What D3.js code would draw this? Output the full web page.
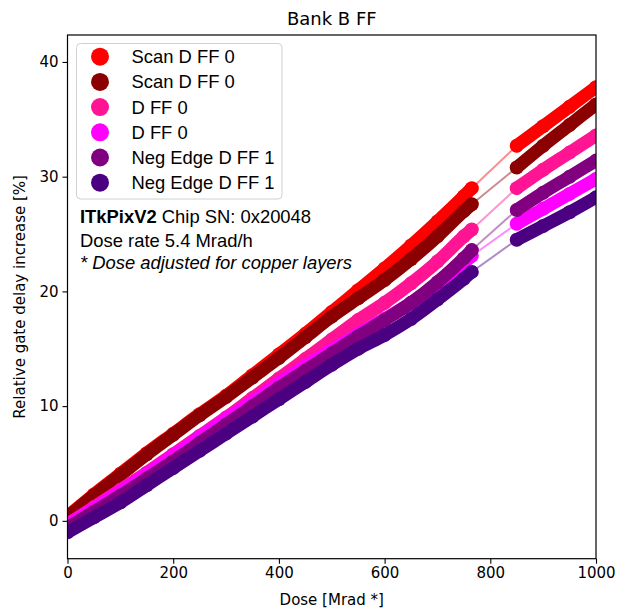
<!DOCTYPE html>
<html>
<head>
<meta charset="utf-8">
<script src="https://cdn.jsdelivr.net/npm/d3@7"></script>
<style>
  body { margin: 0; background: #fff; }
  text { font-family: "DejaVu Sans", sans-serif; fill: #000; }
  .note, .leg { font-family: "Liberation Sans", Arial, sans-serif; }
</style>
</head>
<body>
<div id="container-chart"></div>
<script>
// dose points [Mrad *], before and after the irradiation gap
var doseA = [0, 50, 100, 150, 200, 250, 300, 350, 400, 450, 500, 550, 600, 650, 700, 750, 765];
var doseB = [850, 900, 950, 1000];

var seriesNames = ["Scan D FF 0", "Scan D FF 0", "D FF 0", "D FF 0", "Neg Edge D FF 1", "Neg Edge D FF 1"];
var seriesColors = ["#ff0000", "#8b0000", "#ff1493", "#ff00ff", "#800080", "#4b0082"];

// relative gate delay increase [%]
var scanRedA = [0.4, 2.3, 4.1, 5.9, 7.6, 9.3, 10.9, 12.7, 14.5, 16.3, 18.2, 20.1, 22.0, 24.0, 26.1, 28.3, 29.0];
var scanRedB = [32.7, 34.4, 36.1, 37.8];
var scanDarkA = [0.3, 2.2, 4.0, 5.8, 7.5, 9.2, 10.8, 12.5, 14.2, 16.0, 17.8, 19.4, 21.0, 22.8, 24.8, 27.0, 27.6];
var scanDarkB = [30.8, 32.7, 34.5, 36.3];
var dffPinkA = [-0.3, 1.2, 2.7, 4.2, 5.8, 7.4, 9.0, 10.7, 12.4, 14.1, 15.8, 17.5, 19.0, 20.7, 22.6, 24.8, 25.4];
var dffPinkB = [29.0, 30.6, 32.1, 33.6];
var dffMagA = [-0.3, 1.1, 2.6, 4.1, 5.7, 7.3, 8.9, 10.4, 12.0, 13.5, 14.9, 16.3, 17.6, 19.0, 20.6, 22.5, 23.1];
var dffMagB = [25.9, 27.2, 28.5, 29.8];
var negPurpleA = [-0.6, 0.8, 2.2, 3.7, 5.2, 6.8, 8.4, 10.0, 11.6, 13.1, 14.6, 16.1, 17.5, 19.0, 20.8, 22.9, 23.6];
var negPurpleB = [27.1, 28.6, 30.0, 31.4];
var negIndigoA = [-1.0, 0.3, 1.6, 3.1, 4.6, 6.1, 7.6, 9.1, 10.6, 12.1, 13.6, 15.0, 16.2, 17.6, 19.3, 21.1, 21.7];
var negIndigoB = [24.5, 25.7, 26.9, 28.2];

var valuesA = [scanRedA, scanDarkA, dffPinkA, dffMagA, negPurpleA, negIndigoA];
var valuesB = [scanRedB, scanDarkB, dffPinkB, dffMagB, negPurpleB, negIndigoB];

var xTicks = [0, 200, 400, 600, 800, 1000];
var yTicks = [0, 10, 20, 30, 40];

function chartBank(width, height) {
  var svg = d3.select("#container-chart")
    .append("svg")
      .attr("width", width)
      .attr("height", height);

  var left = 67.5, right = 596, top = 35, bottom = 558.7;

  var x = d3.scaleLinear()
    .domain([0, 1000])
    .range([left, right]);
  var y = d3.scaleLinear()
    .domain([-3.3, 42.35])
    .range([bottom, top]);

  var plot = svg.append("g");
  plot.append("clipPath").attr("id", "clip")
    .append("rect")
      .attr("x", left).attr("y", top)
      .attr("width", right - left).attr("height", bottom - top);
  var marks = plot.append("g").attr("clip-path", "url(#clip)");

  var line = d3.line()
    .x(d => x(d[0]))
    .y(d => y(d[1]));
  var band = d3.line()
    .curve(d3.curveMonotoneX)
    .x(d => x(d[0]))
    .y(d => y(d[1]));

  seriesColors.forEach(function(c, i) {
    var a = doseA.map((d, j) => [d, valuesA[i][j]]);
    var b = doseB.map((d, j) => [d, valuesB[i][j]]);

    // thin connecting line across the gap
    marks.append("path")
      .datum([a[a.length - 1], b[0]])
      .attr("fill", "none")
      .attr("stroke", c)
      .attr("stroke-opacity", 0.45)
      .attr("stroke-width", 2)
      .attr("d", line);

    [a, b].forEach(function(seg) {
      marks.append("path")
        .datum(seg)
        .attr("fill", "none")
        .attr("stroke", c)
        .attr("stroke-width", 13)
        .attr("stroke-linecap", "round")
        .attr("stroke-linejoin", "round")
        .attr("d", band);
      marks.selectAll(null)
        .data(seg)
        .enter().append("circle")
          .attr("cx", d => x(d[0]))
          .attr("cy", d => y(d[1]))
          .attr("r", 7)
          .attr("fill", c);
    });
  });

  // axes
  var xAxis = svg.append("g")
    .attr("transform", "translate(0," + bottom + ")")
    .call(d3.axisBottom(x).tickValues(xTicks).tickFormat(d3.format("d")).tickSize(5).tickPadding(4));
  var yAxis = svg.append("g")
    .attr("transform", "translate(" + left + ",0)")
    .call(d3.axisLeft(y).tickValues(yTicks).tickFormat(d3.format("d")).tickSize(5).tickPadding(4));
  [xAxis, yAxis].forEach(function(g) {
    g.select(".domain").remove();
    g.selectAll("text").style("font-size", "15px").style("font-family", "DejaVu Sans");
    g.selectAll("line").attr("stroke", "#000").attr("stroke-width", 1.1);
  });

  svg.append("rect")
    .attr("x", left).attr("y", top)
    .attr("width", right - left).attr("height", bottom - top)
    .attr("fill", "none")
    .attr("stroke", "#000")
    .attr("stroke-width", 1.2);

  // title and labels
  svg.append("text")
    .attr("x", (left + right) / 2).attr("y", 25)
    .attr("text-anchor", "middle")
    .style("font-size", "18px")
    .text("Bank B FF");
  svg.append("text")
    .attr("x", (left + right) / 2).attr("y", 605)
    .attr("text-anchor", "middle")
    .style("font-size", "15px")
    .text("Dose [Mrad *]");
  svg.append("text")
    .attr("transform", "translate(25," + ((top + bottom) / 2) + ") rotate(-90)")
    .attr("text-anchor", "middle")
    .style("font-size", "15px")
    .text("Relative gate delay increase [%]");

  // legend
  var leg = svg.append("g");
  leg.append("rect")
    .attr("x", 76.5).attr("y", 43.5)
    .attr("width", 205.5).attr("height", 155.5)
    .attr("rx", 4)
    .attr("fill", "#fff")
    .attr("fill-opacity", 0.8)
    .attr("stroke", "#d0d0d0");
  seriesNames.forEach(function(n, i) {
    var cy = 56.7 + i * 25.2;
    leg.append("circle")
      .attr("cx", 100).attr("cy", cy).attr("r", 9)
      .attr("fill", seriesColors[i]);
    leg.append("text")
      .attr("class", "leg")
      .attr("x", 131.5).attr("y", cy + 6.5)
      .style("font-size", "18.4px")
      .text(n);
  });

  // annotation
  var t1 = svg.append("text").attr("class", "note")
    .attr("x", 80).attr("y", 222.7)
    .style("font-size", "18.4px");
  t1.append("tspan").style("font-weight", "bold").text("ITkPixV2");
  t1.append("tspan").text(" Chip SN: 0x20048");
  svg.append("text").attr("class", "note")
    .attr("x", 80).attr("y", 246.5)
    .style("font-size", "18.4px")
    .text("Dose rate 5.4 Mrad/h");
  svg.append("text").attr("class", "note")
    .attr("x", 80).attr("y", 268.5)
    .style("font-size", "18.4px")
    .style("font-style", "italic")
    .text("* Dose adjusted for copper layers");
}

chartBank(618, 609);
</script>
</body>
</html>
